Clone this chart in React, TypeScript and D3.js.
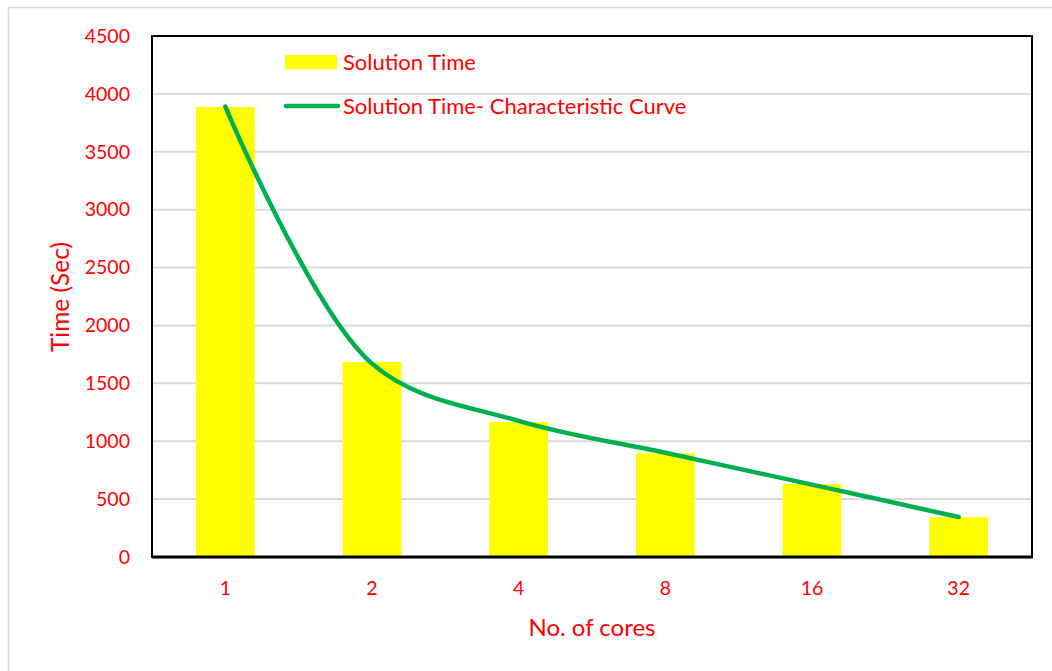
import React from "react";
import * as d3 from "d3";

const categories = ["1", "2", "4", "8", "16", "32"];
const barValues = [3887, 1684, 1166, 896, 630, 343];
const curveValues = [3890, 1670, 1175, 900, 625, 345];
const yTicks = [0, 500, 1000, 1500, 2000, 2500, 3000, 3500, 4000, 4500];

const W = 1052, H = 671;
const M = { left: 152, top: 36, right: 1032, bottom: 557 };
const FONT = "Lato, 'Open Sans', sans-serif";
const RED = "#FF0000";

export default function App() {
  const x = d3.scaleBand<string>().domain(categories).range([M.left, M.right]).paddingInner(0.6).paddingOuter(0.3);
  const xc = (c: string) => (x(c) as number) + x.bandwidth() / 2;
  const y = d3.scaleLinear().domain([0, 4500]).range([M.bottom, M.top]);
  const line = d3.line<number>()
    .x((_, i) => xc(categories[i]))
    .y((d) => y(d))
    .curve(d3.curveCatmullRom.alpha(0.5));
  return (
    <div style={{ position: "fixed", left: 0, top: 0, width: W, height: H, background: "#fff" }}>
      <svg width={W} height={H} style={{ display: "block" }}>
        <rect x={8.5} y={7.5} width={W + 10} height={H + 10} fill="#fff" stroke="#D9D9D9" strokeWidth={1.5} />
        {yTicks.slice(1).map((t) => (
          <line key={t} x1={M.left} x2={M.right} y1={y(t)} y2={y(t)} stroke="#D9D9D9" strokeWidth={2} />
        ))}
        {barValues.map((v, i) => (
          <rect key={i} x={x(categories[i])} y={y(v)} width={x.bandwidth()} height={y(0) - y(v)} fill="#FFFF00" />
        ))}
        <path d={line(curveValues) || ""} fill="none" stroke="#00B050" strokeWidth={4.5} strokeLinecap="round" />
        <rect x={M.left} y={M.top} width={M.right - M.left} height={M.bottom - M.top} fill="none" stroke="#000" strokeWidth={2} />
        <line x1={M.left} x2={M.right + 1} y1={M.bottom} y2={M.bottom} stroke="#000" strokeWidth={3} />
        {yTicks.map((t) => (
          <text key={t} x={130} y={y(t)} dy="0.35em" textAnchor="end" fill={RED} fontFamily={FONT} fontSize={19.5}>{t}</text>
        ))}
        {categories.map((c) => (
          <text key={c} x={xc(c)} y={588} dy="0.35em" textAnchor="middle" fill={RED} fontFamily={FONT} fontSize={19.5}>{c}</text>
        ))}
        <text x={592} y={628} dy="0.35em" textAnchor="middle" fill={RED} fontFamily={FONT} fontSize={24}>No. of cores</text>
        <text transform={`translate(60,297) rotate(-90)`} dy="0.35em" textAnchor="middle" fill={RED} fontFamily={FONT} fontSize={24.5}>Time (Sec)</text>
        <rect x={285} y={55} width={52} height={14} fill="#FFFF00" />
        <text x={343} y={62} dy="0.35em" fill={RED} fontFamily={FONT} fontSize={22}>Solution Time</text>
        <line x1={286} x2={338} y1={106} y2={106} stroke="#00B050" strokeWidth={4.5} strokeLinecap="round" />
        <text x={343} y={106} dy="0.35em" fill={RED} fontFamily={FONT} fontSize={22}>Solution Time- Characteristic Curve</text>
      </svg>
    </div>
  );
}
